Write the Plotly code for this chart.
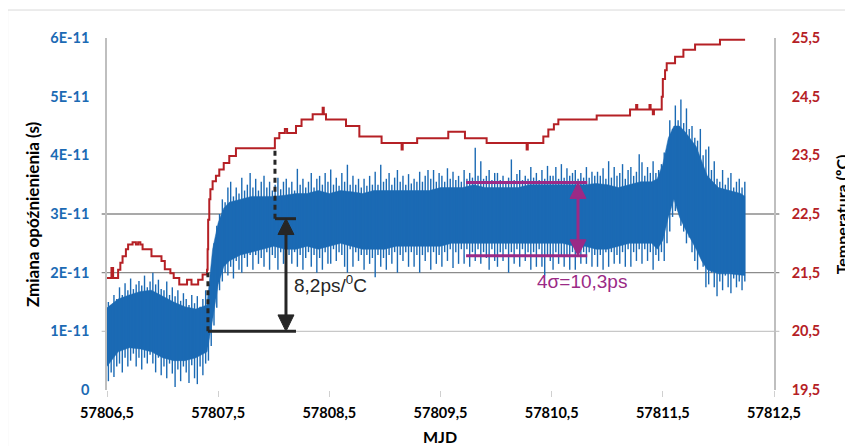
import numpy as np
import plotly.graph_objects as go

# ---------------- data ----------------
# Delay change (units of 1E-11 s): typical upper / lower edge of the dense noise band
band_mjd = [57806.50, 57806.60, 57806.70, 57806.80, 57806.90, 57807.00, 57807.10, 57807.20,
            57807.30, 57807.40, 57807.45, 57807.50, 57807.55, 57807.60, 57807.70, 57807.80,
            57807.90, 57808.00, 57808.10, 57808.20, 57808.30, 57808.40, 57808.50, 57808.60,
            57808.70, 57808.80, 57808.90, 57809.00, 57809.10, 57809.20, 57809.30, 57809.40,
            57809.50, 57809.60, 57809.70, 57809.80, 57809.90, 57810.00, 57810.10, 57810.20,
            57810.30, 57810.40, 57810.50, 57810.60, 57810.70, 57810.80, 57810.90, 57811.00,
            57811.10, 57811.20, 57811.30, 57811.40, 57811.45, 57811.50, 57811.55, 57811.60,
            57811.65, 57811.70, 57811.80, 57811.85, 57811.90, 57812.00, 57812.10, 57812.20,
            57812.24]
band_upper = [1.40, 1.55, 1.62, 1.68, 1.70, 1.60, 1.50, 1.42,
              1.38, 1.45, 2.40, 2.85, 3.10, 3.20, 3.25, 3.30,
              3.30, 3.30, 3.32, 3.35, 3.35, 3.40, 3.35, 3.40,
              3.38, 3.35, 3.40, 3.40, 3.40, 3.40, 3.40, 3.40,
              3.45, 3.45, 3.45, 3.50, 3.45, 3.45, 3.45, 3.45,
              3.50, 3.50, 3.50, 3.50, 3.50, 3.50, 3.52, 3.50,
              3.45, 3.50, 3.55, 3.55, 3.60, 3.85, 4.30, 4.50,
              4.50, 4.40, 4.15, 3.90, 3.65, 3.45, 3.40, 3.35,
              3.30]
band_lower = [0.40, 0.65, 0.72, 0.70, 0.65, 0.55, 0.50, 0.50,
              0.55, 0.65, 1.20, 1.80, 2.10, 2.20, 2.30, 2.35,
              2.40, 2.45, 2.40, 2.40, 2.45, 2.40, 2.45, 2.50,
              2.45, 2.40, 2.40, 2.40, 2.45, 2.45, 2.45, 2.45,
              2.45, 2.50, 2.50, 2.50, 2.50, 2.50, 2.50, 2.50,
              2.50, 2.50, 2.50, 2.50, 2.45, 2.45, 2.40, 2.40,
              2.45, 2.50, 2.50, 2.50, 2.40, 2.55, 2.95, 3.25,
              2.95, 2.75, 2.40, 2.20, 2.05, 1.98, 1.98, 1.95,
              1.95]

# Min / max of the delay in consecutive 0.025-day bins (units of 1E-11 s)
bin_start = 57806.5
bin_width = 0.025
bin_max = [1.50, 1.45, 1.62, 1.55, 1.75, 1.62, 1.82, 1.70, 1.90, 1.72, 1.80, 1.86,
           1.78, 1.95, 1.75, 1.85, 2.00, 1.80, 1.88, 1.72, 1.70, 1.85, 1.62, 1.75,
           1.60, 1.70, 1.52, 1.65, 1.55, 1.45, 1.62, 1.48, 1.60, 1.42, 1.55, 1.70,
           1.65, 2.00, 2.50, 2.80, 3.00, 3.25, 3.20, 3.45, 3.55, 3.30, 3.45, 3.35,
           3.62, 3.40, 3.50, 3.70, 3.45, 3.60, 3.40, 3.55, 3.65, 3.45, 3.55, 3.40,
           3.50, 3.62, 3.42, 3.55, 3.60, 3.45, 3.55, 3.40, 3.77, 3.50, 3.60, 3.45,
           3.55, 3.70, 3.45, 3.60, 3.65, 3.50, 3.70, 3.55, 3.76, 3.50, 3.62, 3.48,
           3.70, 3.55, 3.84, 3.50, 3.65, 3.50, 3.60, 3.45, 3.60, 3.48, 3.65, 3.50,
           3.72, 3.50, 3.84, 3.55, 3.60, 3.70, 3.50, 3.62, 3.75, 3.55, 3.65, 3.50,
           3.68, 3.52, 3.60, 3.55, 3.72, 3.55, 3.65, 3.75, 3.60, 3.75, 3.55, 3.70,
           3.65, 3.55, 3.78, 3.60, 3.72, 3.58, 3.65, 3.55, 3.75, 3.60, 3.70, 3.62,
           4.13, 3.65, 3.90, 3.60, 3.65, 3.75, 3.58, 3.70, 3.70, 3.58, 3.65, 3.55,
           3.62, 3.93, 3.58, 3.68, 3.75, 3.58, 3.65, 3.60, 3.80, 3.62, 3.70, 3.58,
           3.75, 3.60, 3.82, 3.65, 3.65, 3.80, 3.60, 3.85, 3.62, 3.78, 3.65, 3.70,
           3.75, 3.60, 3.70, 3.62, 3.80, 3.62, 3.72, 3.65, 3.72, 3.65, 3.78, 3.60,
           3.90, 3.62, 3.80, 3.65, 3.70, 3.85, 3.60, 3.75, 3.80, 3.65, 3.72, 4.02,
           3.88, 3.65, 3.80, 3.70, 3.90, 3.70, 3.75, 3.85, 4.05, 4.10, 4.60, 4.45,
           4.85, 4.60, 4.95, 4.55, 4.80, 4.45, 4.50, 4.30, 4.25, 4.45, 4.00, 4.10,
           4.15, 3.75, 3.90, 3.60, 3.55, 3.75, 3.50, 3.62, 3.70, 3.45, 3.55, 3.60,
           3.45, 3.55]
bin_min = [0.15, 0.30, 0.22, 0.40, 0.45, 0.30, 0.55, 0.40, 0.50, 0.62, 0.40, 0.55,
           0.35, 0.55, 0.45, 0.60, 0.45, 0.30, 0.55, 0.25, 0.40, 0.20, 0.45, 0.28,
           0.05, 0.35, 0.15, 0.40, 0.30, 0.12, 0.42, 0.20, 0.10, 0.40, 0.25, 0.45,
           0.50, 0.75, 1.10, 1.40, 1.70, 1.85, 2.00, 1.95, 2.10, 1.90, 2.20, 2.05,
           2.00, 2.25, 2.10, 2.30, 2.05, 2.30, 2.15, 2.25, 2.10, 2.35, 2.05, 2.30,
           2.25, 2.05, 2.35, 2.15, 2.05, 2.30, 2.15, 2.35, 2.10, 2.30, 2.05, 2.25,
           2.35, 2.10, 2.30, 2.00, 2.25, 2.05, 2.35, 2.15, 2.15, 2.40, 2.20, 2.35,
           2.30, 2.10, 2.00, 2.40, 2.10, 2.35, 2.20, 2.30, 2.05, 2.30, 2.15, 2.25,
           1.92, 2.30, 2.10, 2.25, 2.05, 2.30, 2.15, 2.35, 2.00, 2.30, 2.20, 2.35,
           2.10, 2.35, 2.10, 2.30, 2.00, 2.30, 2.20, 2.35, 2.05, 2.35, 2.15, 2.30,
           2.10, 2.35, 2.20, 2.40, 2.08, 2.35, 2.15, 2.40, 2.15, 2.40, 2.10, 2.35,
           2.20, 2.40, 2.15, 2.35, 2.25, 2.05, 2.40, 2.20, 2.10, 2.35, 2.20, 2.40,
           2.00, 2.35, 2.15, 2.40, 2.10, 2.40, 2.20, 2.35, 2.05, 2.35, 2.10, 2.40,
           2.10, 1.95, 2.30, 2.20, 2.05, 2.35, 2.15, 2.30, 2.10, 2.30, 2.05, 2.35,
           2.05, 2.30, 2.15, 2.35, 2.15, 2.35, 2.10, 2.30, 2.10, 2.30, 2.05, 2.35,
           2.10, 2.35, 2.15, 2.30, 2.15, 2.35, 2.10, 2.40, 2.10, 2.35, 2.20, 2.40,
           2.15, 2.40, 2.20, 2.35, 2.05, 2.30, 2.20, 2.35, 2.20, 2.50, 2.70, 2.95,
           3.05, 3.10, 2.80, 2.70, 2.50, 2.60, 2.35, 2.20, 2.05, 2.30, 2.10, 1.75,
           1.80, 2.00, 1.75, 1.60, 1.85, 1.70, 1.95, 1.75, 1.65, 1.90, 1.75, 1.85,
           1.70, 1.85]

# Temperature (deg C), step changes
temp_mjd = [57806.50, 57806.54, 57806.555, 57806.60, 57806.62, 57806.64, 57806.67, 57806.69,
            57806.73, 57806.76, 57806.78, 57806.80, 57806.82, 57806.90, 57806.99, 57807.02,
            57807.07, 57807.10, 57807.15, 57807.22, 57807.26, 57807.32, 57807.36, 57807.40,
            57807.405, 57807.41, 57807.42, 57807.43, 57807.45, 57807.48, 57807.51, 57807.55,
            57807.60, 57807.66, 57808.01, 57808.05, 57808.10, 57808.12, 57808.20, 57808.25,
            57808.35, 57808.44, 57808.45, 57808.47, 57808.65, 57808.77, 57808.97, 57809.15,
            57809.16, 57809.29, 57809.57, 57809.72, 57809.915, 57810.275, 57810.285, 57810.425,
            57810.47, 57810.52, 57810.56, 57810.905, 57811.205, 57811.26, 57811.27, 57811.38,
            57811.39, 57811.41, 57811.42, 57811.49, 57811.50, 57811.52, 57811.535, 57811.61,
            57811.685, 57811.79, 57812.014, 57812.24]
temp_val = [21.41, 21.58, 21.41, 21.55, 21.67, 21.78, 21.90, 21.98,
            22.02, 21.98, 22.02, 21.98, 21.90, 21.78, 21.70, 21.56,
            21.49, 21.41, 21.30, 21.38, 21.30, 21.38, 21.47, 21.55,
            21.90, 22.40, 22.75, 22.92, 23.06, 23.15, 23.26, 23.37,
            23.49, 23.62, 23.79, 23.88, 23.95, 23.88, 24.00, 24.11,
            24.20, 24.31, 24.20, 24.11, 24.00, 23.82, 23.71, 23.60,
            23.71, 23.79, 23.90, 23.79, 23.71, 23.60, 23.71, 23.82,
            23.94, 24.03, 24.11, 24.18, 24.28, 24.36, 24.28, 24.36,
            24.28, 24.20, 24.28, 24.50, 24.80, 24.95, 25.07, 25.18,
            25.30, 25.39, 25.47, 25.47]

x_ticks = [57806.5, 57807.5, 57808.5, 57809.5, 57810.5, 57811.5, 57812.5]
x_ticktext = ["57806,5", "57807,5", "57808,5", "57809,5", "57810,5", "57811,5", "57812,5"]
y_ticks = [0, 1, 2, 3, 4, 5, 6]
y_ticktext = ["0", "1E-11", "2E-11", "3E-11", "4E-11", "5E-11", "6E-11"]
t_ticks = [19.5, 20.5, 21.5, 22.5, 23.5, 24.5, 25.5]
t_ticktext = ["19,5", "20,5", "21,5", "22,5", "23,5", "24,5", "25,5"]

# ---------------- styling ----------------
BLUE = "#1b6ab4"
RED = "#b52025"
MAG = "#9b2a86"
DARK = "#262626"
FONT = "Lato"

fig = go.Figure()

# solid core of the noise band
fig.add_trace(go.Scatter(x=band_mjd, y=band_upper, mode="lines",
                         line=dict(color=BLUE, width=0.5), hoverinfo="skip", showlegend=False))
fig.add_trace(go.Scatter(x=band_mjd, y=band_lower, mode="lines", fill="tonexty",
                         fillcolor=BLUE, line=dict(color=BLUE, width=0.5),
                         hoverinfo="skip", showlegend=False))

# min-max bars of each bin give the noisy fringe
bx, by = [], []
for i, (hi, lo) in enumerate(zip(bin_max, bin_min)):
    xc = bin_start + (i + 0.5) * bin_width
    bx += [xc, xc, None]
    by += [lo, hi, None]
fig.add_trace(go.Scatter(x=bx, y=by, mode="lines", line=dict(color=BLUE, width=1.4),
                         hoverinfo="skip", showlegend=False))

# temperature
fig.add_trace(go.Scatter(x=temp_mjd, y=temp_val, mode="lines", yaxis="y2",
                         line=dict(color=RED, width=2, shape="hv"), showlegend=False))

shapes = []
# chart border
shapes.append(dict(type="rect", xref="paper", yref="paper", x0=-0.149, x1=1.3, y0=-0.3, y1=1.0795,
                   line=dict(color="#d9d9d9", width=1), layer="below"))
# horizontal reference lines
for yv, col in [(1, "#c8c8c8"), (2, "#8c8c8c"), (3, "#8c8c8c")]:
    shapes.append(dict(type="line", xref="paper", yref="y", x0=-0.008, x1=1.008, y0=yv, y1=yv,
                       line=dict(color=col, width=1.3), layer="below"))

# black annotation (8,2ps/0C)
shapes += [
    dict(type="line", xref="x", yref="y", x0=57807.408, x1=57808.20, y0=1.0, y1=1.0,
         line=dict(color=DARK, width=3)),
    dict(type="line", xref="x", yref="y", x0=57808.011, x1=57808.20, y0=2.92, y1=2.92,
         line=dict(color=DARK, width=3)),
    dict(type="line", xref="x", yref="y", x0=57807.408, x1=57807.408, y0=1.0, y1=2.0,
         line=dict(color=DARK, width=3, dash="5px,4px")),
    dict(type="line", xref="x", yref="y", x0=57808.011, x1=57808.011, y0=2.92, y1=4.1,
         line=dict(color=DARK, width=3, dash="5px,4px")),
    dict(type="line", xref="x", yref="y", x0=57808.11, x1=57808.11, y0=1.2, y1=2.7,
         line=dict(color=DARK, width=3)),
    dict(type="path", xref="x", yref="y", path="M 57808.11 2.92 L 57808.038 2.65 L 57808.182 2.65 Z",
         fillcolor=DARK, line=dict(color=DARK, width=1)),
    dict(type="path", xref="x", yref="y", path="M 57808.11 1.0 L 57808.038 1.28 L 57808.182 1.28 Z",
         fillcolor=DARK, line=dict(color=DARK, width=1)),
]
# magenta annotation (4 sigma)
shapes += [
    dict(type="line", xref="x", yref="y", x0=57809.73, x1=57810.82, y0=3.535, y1=3.535,
         line=dict(color=MAG, width=3)),
    dict(type="line", xref="x", yref="y", x0=57809.73, x1=57810.82, y0=2.29, y1=2.29,
         line=dict(color=MAG, width=3)),
    dict(type="line", xref="x", yref="y", x0=57810.737, x1=57810.737, y0=2.45, y1=3.35,
         line=dict(color=MAG, width=3)),
    dict(type="path", xref="x", yref="y", path="M 57810.737 3.535 L 57810.665 3.265 L 57810.809 3.265 Z",
         fillcolor=MAG, line=dict(color=MAG, width=1)),
    dict(type="path", xref="x", yref="y", path="M 57810.737 2.29 L 57810.665 2.56 L 57810.809 2.56 Z",
         fillcolor=MAG, line=dict(color=MAG, width=1)),
]

annotations = [
    dict(text="8,2ps/<sup>0</sup>C", x=57808.164, y=1.80, xref="x", yref="y", xanchor="left",
         yanchor="middle", showarrow=False, font=dict(family="Liberation Sans", size=19, color=DARK)),
    dict(text="4σ=10,3ps", x=57810.35, y=1.853, xref="x", yref="y", xanchor="left",
         yanchor="middle", showarrow=False, font=dict(family="Liberation Sans", size=19, color=MAG)),
    dict(text="Zmiana opóźnienienia (s)", x=-0.1124, y=0.5, xref="paper", yref="paper",
         textangle=-90, showarrow=False, xanchor="center", yanchor="middle",
         font=dict(family=FONT, size=17, color="#000000", weight="bold")),
    dict(text="Temperatura (ºC)", x=1.101, y=0.5, xref="paper", yref="paper",
         textangle=-90, showarrow=False, xanchor="center", yanchor="middle",
         font=dict(family=FONT, size=16, color="#000000", weight="bold")),
    dict(text="MJD", x=0.4993, y=-0.1307, xref="paper", yref="paper", showarrow=False,
         xanchor="center", yanchor="middle",
         font=dict(family=FONT, size=16, color="#000000", weight="bold")),
]

# the page adds an 8px body margin: the figure is 8px smaller and starts at (8, 8)
fig.update_layout(
    width=845, height=438,
    margin=dict(l=99, r=79, t=30, b=56),
    paper_bgcolor="white", plot_bgcolor="white",
    shapes=shapes, annotations=annotations,
    xaxis=dict(range=[57806.5, 57812.5], tickvals=x_ticks, ticktext=x_ticktext,
               showgrid=False, zeroline=False, showline=False,
               ticks="outside", ticklen=6, tickcolor="#d0d0d0", tickwidth=1, ticklabelstandoff=4,
               tickfont=dict(family=FONT, size=14.5, color="#000000", weight="bold")),
    yaxis=dict(range=[0, 6], tickvals=y_ticks, ticktext=y_ticktext,
               showgrid=False, zeroline=False, showline=True, linecolor="#bfbfbf", linewidth=1.5,
               ticks="", ticklabelstandoff=13,
               tickfont=dict(family=FONT, size=14.5, color=BLUE, weight="bold")),
    yaxis2=dict(range=[19.5, 25.5], tickvals=t_ticks, ticktext=t_ticktext, overlaying="y",
                side="right", showgrid=False, zeroline=False, showline=True, linecolor="#bfbfbf",
                linewidth=1.5, ticks="", ticklabelstandoff=13,
                tickfont=dict(family=FONT, size=14.5, color=RED, weight="bold")),
)

fig.write_html("out.html")
